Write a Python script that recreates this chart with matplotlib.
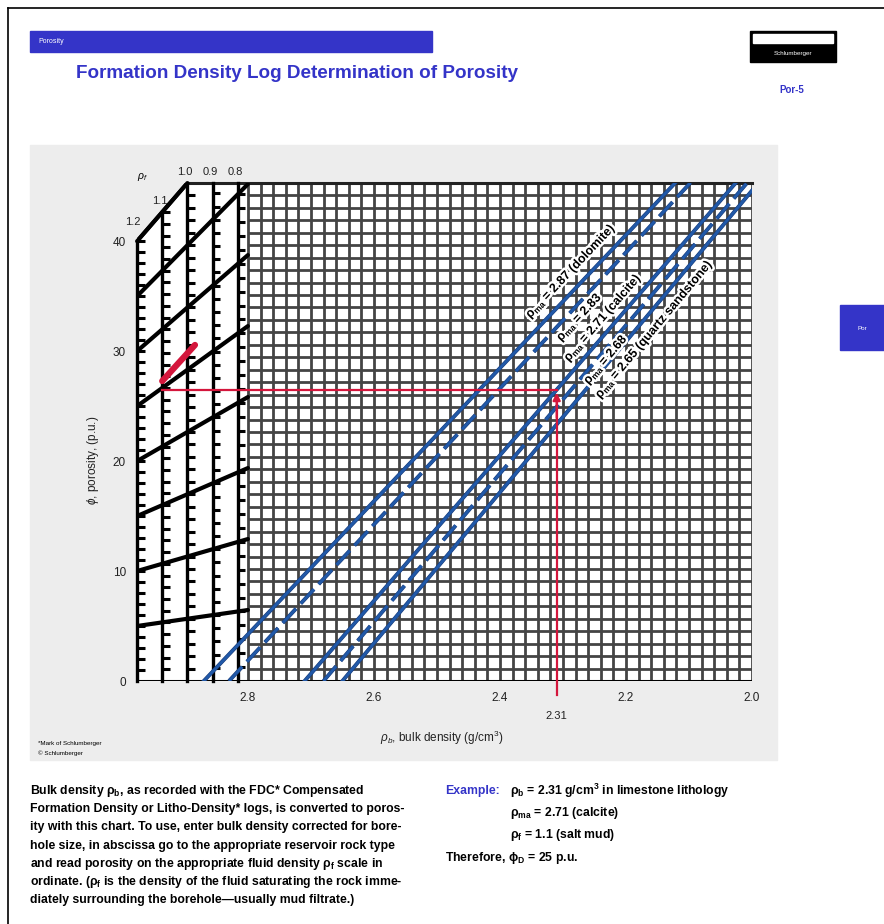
import numpy as np
import matplotlib.pyplot as plt
import matplotlib.patheffects as pe
from matplotlib.patches import Rectangle, Polygon

plt.rcParams['font.family'] = ['Liberation Sans', 'DejaVu Sans']
plt.rcParams['mathtext.fontset'] = 'custom'
plt.rcParams['mathtext.rm'] = 'Liberation Sans'
plt.rcParams['mathtext.it'] = 'Liberation Sans:italic'
plt.rcParams['mathtext.bf'] = 'Liberation Sans:bold'

# ---- chart data ----
rho_ma = [2.87, 2.83, 2.71, 2.68, 2.65]
ma_names = ['(dolomite)', '', '(calcite)', '', '(quartz sandstone)']
ma_styles = ['-', '--', '-', '--', '-']
rho_fluid = [1.2, 1.1, 1.0, 0.9, 0.8]
phi_diag = [5, 10, 15, 20, 25, 30, 35, 40]
phi_ticklabels = [0, 10, 20, 30, 40]
rhob_ticks = [2.8, 2.6, 2.4, 2.2, 2.0]
ex_rhob, ex_rhoma, ex_rhof = 2.31, 2.71, 1.1

RHO_REF = 1.0     # fluid density of the main grid
RHO_CONV = 2.71   # matrix used for the fluid conversion scales
BLUE = '#2159a8'
RED = '#d4163c'
NAVY = '#3434c8'
W, H = 884, 924


def phi_grid(rhob, rma):
    return 100.0 * (rma - rhob) / (rma - RHO_REF)


def fx(rf):
    # x position (in bulk density units) of a fluid density scale
    return 2.816 + (rf - 0.8) * 0.4


def fy(phi, rf):
    # grid ordinate of porosity phi read on fluid scale rf
    return np.minimum(phi * (RHO_CONV - rf) / (RHO_CONV - RHO_REF), 40.0)


fig = plt.figure(figsize=(W / 100, H / 100), dpi=100)

# page layer in pixel coordinates
pg = fig.add_axes([0, 0, 1, 1])
pg.set_xlim(0, W)
pg.set_ylim(H, 0)
pg.axis('off')

pg.add_patch(Rectangle((30, 145), 747, 615, color='#ededed', zorder=0))
pg.add_patch(Rectangle((30, 31), 402, 21, color=NAVY))
pg.text(38, 41.5, 'Porosity', color='white', fontsize=5, va='center')
pg.text(76, 74, 'Formation Density Log Determination of Porosity', color=NAVY,
        fontsize=13.6, fontweight='bold', va='center')
pg.add_patch(Rectangle((750, 31), 86, 31, color='black'))
pg.add_patch(Rectangle((753, 33.5), 80, 9.5, color='white'))
pg.text(793, 53, 'Schlumberger', color='white', fontsize=4.5, ha='center', va='center')
pg.text(792, 90, 'Por-5', color=NAVY, fontsize=7, fontweight='bold', ha='center', va='center')
pg.add_patch(Rectangle((840, 305), 44, 45, color=NAVY))
pg.text(862, 328, 'Por', color='white', fontsize=4.5, ha='center', va='center')
pg.plot([8, 8], [8, H], color='black', lw=1.2)
pg.plot([8, W], [8, 8], color='black', lw=1.2)

pg.text(93, 460, r'$\phi$, porosity, (p.u.)', rotation=90, fontsize=8.5,
        ha='center', va='center', color='#222222')
pg.text(442, 738, r'$\rho_b$, bulk density (g/cm$^3$)', fontsize=8.5,
        ha='center', va='center', color='#222222')
pg.text(38, 743, '*Mark of Schlumberger', fontsize=4.5, va='center')
pg.text(38, 753, '\u00a9 Schlumberger', fontsize=4.5, va='center')

# ---- main chart ----
ax = fig.add_axes([137 / W, (H - 681) / H, (752 - 137) / W, (681 - 183) / H])
ax.set_facecolor('none')
ax.set_xlim(fx(1.2), 2.0)
ax.set_ylim(0, 40)
for s in ax.spines.values():
    s.set_visible(False)

# white background of grid and nomograph
ax.add_patch(Rectangle((2.8, 0), -0.8, 40, facecolor='white', edgecolor='none', zorder=0))
top_pts = [(fx(rf), fy(40, rf)) for rf in rho_fluid]
nomo = [(fx(1.2), 0)] + top_pts + [(2.8, 40), (2.8, 0)]
ax.add_patch(Polygon(nomo, closed=True, facecolor='white', edgecolor='none', zorder=0))

# grid
gcol = '#444444'
for xv in np.arange(2.0, 2.8001, 0.02):
    ax.plot([xv, xv], [0, 40], color=gcol, lw=2.0, zorder=1, solid_capstyle='butt')
for yv in range(0, 41):
    ax.plot([2.8, 2.0], [yv, yv], color=gcol, lw=2.0, zorder=1, solid_capstyle='butt')
ax.plot([fx(1.2), 2.0], [0, 0], color='black', lw=2.2, zorder=3)
ax.plot([fx(1.0), 2.0], [40, 40], color='#222222', lw=2.2, zorder=3, clip_on=False)

# fluid density scales
for rf in rho_fluid:
    top = fy(40, rf)
    ax.plot([fx(rf), fx(rf)], [0, top], color='black', lw=2.4, zorder=3, clip_on=False)
    for p in range(1, 41):
        if p * (RHO_CONV - rf) / (RHO_CONV - RHO_REF) > 40.0:
            break
        yv = fy(p, rf)
        ax.plot([fx(rf), fx(rf) - 0.012], [yv, yv], color='black', lw=2.2,
                zorder=3, solid_capstyle='butt')
ax.plot([fx(rf) for rf in rho_fluid[:3]], [fy(40, rf) for rf in rho_fluid[:3]],
        color='black', lw=2.8, zorder=3, clip_on=False, solid_capstyle='round')
rf_end = 0.8 - (fx(0.8) - 2.8) / 0.4
for p in phi_diag:
    xs = np.array([fx(1.2), fx(rf_end)])
    ys = p * (RHO_CONV - np.array([1.2, rf_end])) / (RHO_CONV - RHO_REF)
    ax.plot(xs, ys, color='black', lw=3.0, zorder=3, solid_capstyle='round')

# matrix lines
for rma, ls in zip(rho_ma, ma_styles):
    ax.plot([rma, 2.0], [0, phi_grid(2.0, rma)], color=BLUE, lw=2.0, ls=ls,
            dashes=(7, 2.5) if ls == '--' else (None, None), zorder=4,
            path_effects=[pe.Stroke(linewidth=2.8, foreground='#183a78'), pe.Normal()])

# labels along the matrix lines
fig.canvas.draw()
label_pos = [(2.270, 15), (2.285, -10), (2.222, 12), (2.240, -7), (2.172, -14)]
for rma, name, (xb, off) in zip(rho_ma, ma_names, label_pos):
    p1 = ax.transData.transform((rma, 0))
    p2 = ax.transData.transform((2.0, phi_grid(2.0, rma)))
    ang = np.arctan2(p2[1] - p1[1], p2[0] - p1[0])
    nx, ny = -np.sin(ang), np.cos(ang)
    txt = r'$\mathbf{\rho_{ma}}$ = %.2f %s' % (rma, name)
    ax.annotate(txt, (xb, phi_grid(xb, rma)), xytext=(nx * off * 0.72, ny * off * 0.72),
                textcoords='offset points', rotation=np.degrees(ang), rotation_mode='anchor',
                ha='center', va='center', fontsize=9, fontweight='bold', zorder=6,
                path_effects=[pe.withStroke(linewidth=3.5, foreground='white')])

# formula
pg.text(607, 464, r'$\mathbf{\phi = \frac{\rho_{ma} - \rho_b}{\rho_{ma} - \rho_f}}$',
        fontsize=9.5, ha='center', va='center', zorder=6,
        path_effects=[pe.withStroke(linewidth=3.5, foreground='white')])

# worked example in red
y_ex = phi_grid(ex_rhob, ex_rhoma)
ax.plot([fx(ex_rhof), ex_rhob], [y_ex, y_ex], color=RED, lw=1.6, zorder=5)
ax.plot([ex_rhob, ex_rhob], [-1.1, y_ex - 0.8], color=RED, lw=1.6, zorder=5, clip_on=False)
ax.annotate('', xy=(ex_rhob, y_ex), xytext=(ex_rhob, y_ex - 2.5),
            arrowprops=dict(arrowstyle='-|>', color=RED, lw=1.6, mutation_scale=11), zorder=5)
ax.plot([fx(ex_rhof), fx(0.97)], [y_ex + 0.7, y_ex + 3.6], color=RED, lw=4.5,
        solid_capstyle='round', zorder=5)
ax.text(ex_rhob, -2.8, '%.2f' % ex_rhob, fontsize=8, ha='center', va='center', color='#222222')

# axis ticks
ax.set_xticks(rhob_ticks)
ax.set_xticklabels(['%.1f' % v for v in rhob_ticks], fontsize=8.5, color='#222222')
ax.set_yticks([fy(p, 1.2) for p in phi_ticklabels])
ax.set_yticklabels([str(p) for p in phi_ticklabels], fontsize=8.5, color='#222222')
ax.tick_params(length=0, pad=8)

# fluid density labels
ax.annotate(r'$\rho_f$', (fx(1.1), 40), xytext=(-14, 4), textcoords='offset points',
            fontsize=7.5, ha='center', va='center')
for rf in rho_fluid:
    off = {1.2: (-3, 14), 1.1: (-2, 8)}.get(rf, (-2, 8))
    ax.annotate('%.1f' % rf, (fx(rf), fy(40, rf)), xytext=off, textcoords='offset points',
                fontsize=8, ha='center', va='center', color='#222222', annotation_clip=False)

# text block below chart
body = [r'Bulk density $\mathbf{\rho_b}$, as recorded with the FDC* Compensated',
        'Formation Density or Litho-Density* logs, is converted to poros-',
        'ity with this chart. To use, enter bulk density corrected for bore-',
        'hole size, in abscissa go to the appropriate reservoir rock type',
        r'and read porosity on the appropriate fluid density $\mathbf{\rho_f}$ scale in',
        r'ordinate. ($\mathbf{\rho_f}$ is the density of the fluid saturating the rock imme-',
        'diately surrounding the borehole\u2014usually mud filtrate.)']
for i, line in enumerate(body):
    pg.text(30, 791 + i * 18.2, line, fontsize=8.8, fontweight='bold', va='center')

pg.text(445, 791, 'Example:', color=NAVY, fontsize=8.8, fontweight='bold', va='center')
pg.text(510, 791, r'$\mathbf{\rho_b}$ = 2.31 g/cm$^\mathbf{3}$ in limestone lithology', fontsize=8.8,
        fontweight='bold', va='center')
pg.text(510, 813, r'$\mathbf{\rho_{ma}}$ = 2.71 (calcite)', fontsize=8.8, fontweight='bold', va='center')
pg.text(510, 835, r'$\mathbf{\rho_f}$ = 1.1 (salt mud)', fontsize=8.8, fontweight='bold', va='center')
pg.text(445, 858, r'Therefore, $\mathbf{\phi_D}$ = 25 p.u.', fontsize=8.8, fontweight='bold', va='center')

fig.savefig('out.png', dpi=100)
